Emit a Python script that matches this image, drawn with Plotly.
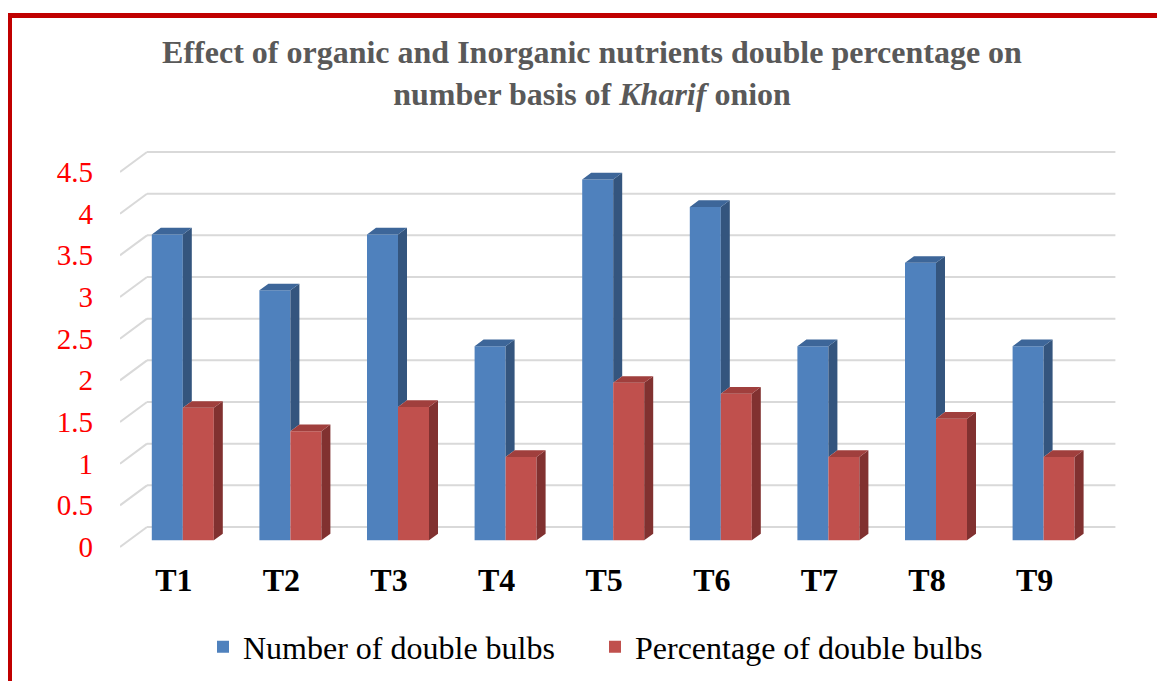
import plotly.graph_objects as go

categories = ["T1", "T2", "T3", "T4", "T5", "T6", "T7", "T8", "T9"]
number_double = [3.67, 3.00, 3.67, 2.33, 4.33, 4.00, 2.33, 3.33, 2.33]
percent_double = [1.59, 1.31, 1.60, 1.00, 1.89, 1.76, 1.00, 1.46, 1.00]
y_ticks = [0, 0.5, 1, 1.5, 2, 2.5, 3, 3.5, 4, 4.5]
y_ticktext = ["0", "0.5", "1", "1.5", "2", "2.5", "3", "3.5", "4", "4.5"]

OFF = 8  # page body margin
W, H = 1165, 681
ML, MR, MT, MB = 120 - OFF, 47 + OFF, 150 - OFF, 131 + OFF
SX = 107.6   # px per category
SY = 83.33   # px per unit
pw = W - ML - MR
ph = H - MT - MB
x0 = -0.5
x1 = x0 + pw / SX
y0 = (547 - OFF - (H - MB)) / SY
y1 = y0 + ph / SY

DX = 27 / SX
DY = 20 / SY
ddx, ddy = DX / 3, DY / 3
fdx, fdy = DX / 3, DY / 3
BW = 31 / SX

BLUE, BLUE_SIDE, BLUE_TOP = "#4F81BD", "#34557E", "#3D6699"
RED, RED_SIDE, RED_TOP = "#C0504D", "#813130", "#A03F3D"

xs = list(range(len(categories)))

fig = go.Figure()

fig.add_trace(go.Bar(x=xs, y=number_double, base=[fdy] * len(xs), width=BW,
                     offset=fdx - BW, marker=dict(color=BLUE, line=dict(width=0)),
                     name="Number of double bulbs"))
fig.add_trace(go.Bar(x=xs, y=percent_double, base=[fdy] * len(xs), width=BW,
                     offset=fdx, marker=dict(color=RED, line=dict(width=0)),
                     name="Percentage of double bulbs"))

def poly_trace(px, py, color):
    return go.Scatter(x=px, y=py, mode="lines", fill="toself", fillcolor=color,
                      line=dict(width=0, color=color), showlegend=False,
                      hoverinfo="skip")

bsx, bsy, btx, bty = [], [], [], []
rsx, rsy, rtx, rty = [], [], [], []
for i, (b, r) in enumerate(zip(number_double, percent_double)):
    L = i + fdx - BW
    R = i + fdx
    bt = b + fdy
    low = min(r, b) + fdy
    bsx += [R, R + ddx, R + ddx, R, R, None]
    bsy += [low, low + ddy, bt + ddy, bt, low, None]
    btx += [L, L + ddx, R + ddx, R, L, None]
    bty += [bt, bt + ddy, bt + ddy, bt, bt, None]
    L2 = R
    R2 = R + BW
    rt = r + fdy
    rsx += [R2, R2 + ddx, R2 + ddx, R2, R2, None]
    rsy += [fdy, fdy + ddy, rt + ddy, rt, fdy, None]
    rtx += [L2, L2 + ddx, R2 + ddx, R2, L2, None]
    rty += [rt, rt + ddy, rt + ddy, rt, rt, None]

fig.add_trace(poly_trace(bsx, bsy, BLUE_SIDE))
fig.add_trace(poly_trace(btx, bty, BLUE_TOP))
fig.add_trace(poly_trace(rsx, rsy, RED_SIDE))
fig.add_trace(poly_trace(rtx, rty, RED_TOP))

shapes = []
GRID = "#D9D9D9"
for v in y_ticks:
    shapes.append(dict(type="line", xref="x", yref="y", layer="below",
                       x0=-0.5 + DX, x1=len(xs) - 0.5 + DX, y0=v + DY, y1=v + DY,
                       line=dict(color=GRID, width=2)))
    shapes.append(dict(type="line", xref="x", yref="y", layer="below",
                       x0=-0.5, x1=-0.5 + DX, y0=v, y1=v + DY,
                       line=dict(color=GRID, width=2)))

def px2paper_x(p):
    return (p - OFF - ML) / pw

def px2paper_y(p):
    return ((H - MB) - (p - OFF)) / ph

shapes.append(dict(type="rect", xref="paper", yref="paper",
                   x0=px2paper_x(9.5), x1=px2paper_x(1190),
                   y0=px2paper_y(710), y1=px2paper_y(15.5),
                   line=dict(color="#C00000", width=5), fillcolor="rgba(0,0,0,0)"))

SERIF = "serif"
fig.update_layout(
    width=W, height=H,
    margin=dict(l=ML, r=MR, t=MT, b=MB, autoexpand=False),
    font=dict(family=SERIF),
    paper_bgcolor="white", plot_bgcolor="white",
    barmode="overlay",
    shapes=shapes,
    title=dict(text="Effect of organic and Inorganic nutrients double percentage on<br>number basis of <i>Kharif</i> onion",
               x=(592 - OFF) / W, xanchor="center", xref="container",
               y=1 - 55 / H, yanchor="top", yref="container",
               font=dict(family="Liberation Serif", size=32, color="#595959", weight="bold")),
    xaxis=dict(range=[x0, x1], tickvals=xs, ticktext=categories,
               showgrid=False, zeroline=False, showline=False, ticks="",
               tickfont=dict(family="Liberation Serif", size=32, color="black", weight="bold"),
               ticklabelstandoff=8),
    yaxis=dict(range=[y0, y1], tickvals=y_ticks, ticktext=y_ticktext,
               showgrid=False, zeroline=False, showline=False, ticks="",
               tickfont=dict(family=SERIF, size=29, color="#FF0000"),
               ticklabelstandoff=26),
    legend=dict(orientation="h", x=px2paper_x(203), xanchor="left", y=px2paper_y(647),
                yanchor="middle", font=dict(family=SERIF, size=32, color="black"),
                itemwidth=30, entrywidth=347, entrywidthmode="pixels",
                bgcolor="rgba(0,0,0,0)"),
    showlegend=True,
)

fig.write_html("out.html")
